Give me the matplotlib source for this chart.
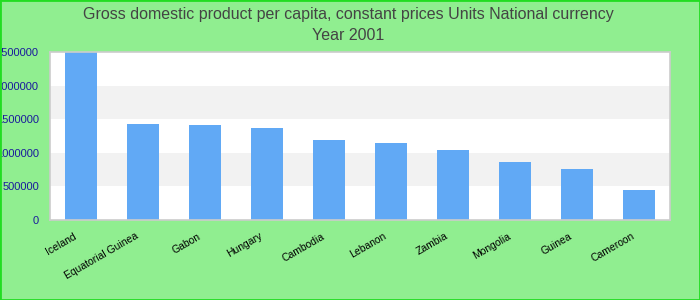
import matplotlib
matplotlib.use("Agg")
import matplotlib.pyplot as plt
from matplotlib.patches import Rectangle
from matplotlib.transforms import ScaledTranslation
import numpy as np

plt.rcParams["font.family"] = ["Liberation Sans", "DejaVu Sans"]

countries = ["Iceland", "Equatorial Guinea", "Gabon", "Hungary", "Cambodia",
             "Lebanon", "Zambia", "Mongolia", "Guinea", "Cameroon"]
gdp = [2500000, 1428000, 1414000, 1369000, 1190000,
       1146000, 1042000, 863000, 759000, 446000]
yticks = [0, 500000, 1000000, 1500000, 2000000, 2500000]

fig = plt.figure(figsize=(7, 3), dpi=100, facecolor="#90ee90")
# plot area: x 50..670, y 52..220 (pixels)
ax = fig.add_axes([50 / 700, 80 / 300, 620 / 700, 168 / 300])
ax.set_facecolor("white")

# alternating horizontal bands
for i in range(len(yticks) - 1):
    if i % 2 == 1:
        ax.axhspan(yticks[i], yticks[i + 1], color="#f2f2f2", zorder=0, lw=0)

x = np.arange(len(countries))
ax.bar(x, gdp, width=0.52, color="#61a9f5", zorder=2)

ax.set_xlim(-0.5, len(countries) - 0.5)
ax.set_ylim(0, 2500000)
ax.set_yticks(yticks)
ax.set_yticklabels([str(v) for v in yticks], color="#1a1a9c", fontsize=8)
ax.set_xticks(x)
ax.set_xticklabels(countries, rotation=30, ha="right", rotation_mode="anchor",
                   fontsize=7.5, color="black")
ax.tick_params(axis="both", length=0)
ax.tick_params(axis="y", pad=8)
ax.tick_params(axis="x", pad=8)

# nudge the rotated labels left, like the original
shift = ScaledTranslation(-8 / 100, 0, fig.dpi_scale_trans)
for lbl in ax.get_xticklabels():
    lbl.set_transform(lbl.get_transform() + shift)

for s in ax.spines.values():
    s.set_color("#cccccc")
    s.set_linewidth(1.2)

fig.text(0.497, 1 - 14 / 300, "Gross domestic product per capita, constant prices Units National currency",
         ha="center", va="center", fontsize=11.5, color="#444444")
fig.text(0.497, 1 - 36 / 300, "Year 2001", ha="center", va="center",
         fontsize=11.5, color="#444444")

fig.patches.append(Rectangle((0, 0), 1, 1, transform=fig.transFigure,
                             fill=False, edgecolor="#22dd22", linewidth=2))

fig.savefig("out.png", dpi=100, facecolor=fig.get_facecolor())
